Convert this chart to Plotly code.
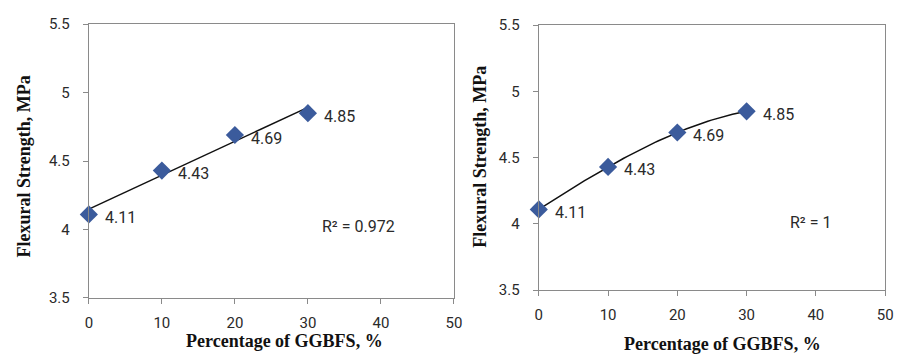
import numpy as np
import plotly.graph_objects as go

ggbfs = [0, 10, 20, 30]
strength = [4.11, 4.43, 4.69, 4.85]
labels = ["4.11", "4.43", "4.69", "4.85"]
x_ticks = [0, 10, 20, 30, 40, 50]
y_ticks = [3.5, 4, 4.5, 5, 5.5]
r2_texts = ["R² = 0.972", "R² = 1"]
x_title = "Percentage of GGBFS, %"
y_title = "Flexural Strength, MPa"

marker_color = "#3b5b9c"
tick_font = dict(family="Roboto, sans-serif", size=15, color="#2a2a2a")
label_font = dict(family="Roboto, sans-serif", size=16, color="#2a2a2a")
title_font = dict(family="Liberation Serif, serif", size=18, color="#111")

fig = go.Figure()

# Trendlines
lin = np.polyfit(ggbfs, strength, 1)
cub = np.polyfit(ggbfs, strength, 3)
xs_lin = np.array([ggbfs[0], ggbfs[-1]])
xs_cub = np.linspace(ggbfs[0], ggbfs[-1], 60)

fig.add_trace(go.Scatter(x=xs_lin, y=np.polyval(lin, xs_lin), mode="lines",
                         line=dict(color="#111", width=1.5), xaxis="x", yaxis="y",
                         showlegend=False))
fig.add_trace(go.Scatter(x=xs_cub, y=np.polyval(cub, xs_cub), mode="lines",
                         line=dict(color="#111", width=1.5), xaxis="x2", yaxis="y2",
                         showlegend=False))

for xa, ya in [("x", "y"), ("x2", "y2")]:
    fig.add_trace(go.Scatter(x=ggbfs, y=strength, mode="markers",
                             marker=dict(symbol="diamond", size=14, color=marker_color),
                             xaxis=xa, yaxis=ya, showlegend=False, cliponaxis=False))

annotations = []
for xref, yref in [("x", "y"), ("x2", "y2")]:
    for xv, yv, t in zip(ggbfs, strength, labels):
        annotations.append(dict(x=xv, y=yv, xref=xref, yref=yref, text=t,
                                showarrow=False, xanchor="left", yanchor="middle",
                                xshift=14, yshift=-3, font=label_font))

annotations.append(dict(x=36.9, y=4.02, xref="x", yref="y", text=r2_texts[0],
                        showarrow=False, xanchor="center", yanchor="middle", font=label_font))
annotations.append(dict(x=39.2, y=4.01, xref="x2", yref="y2", text=r2_texts[1],
                        showarrow=False, xanchor="center", yanchor="middle", font=label_font))

# axis titles
annotations += [
    dict(x=20 / 903, y=1 - 166 / 361, xref="paper", yref="paper", text="<b>" + y_title + "</b>",
         textangle=-90, showarrow=False, xanchor="center", yanchor="middle", font=title_font),
    dict(x=284 / 903, y=1 - 349 / 361, xref="paper", yref="paper", text="<b>" + x_title + "</b>",
         showarrow=False, xanchor="center", yanchor="middle", font=title_font),
    dict(x=483 / 903, y=1 - 156 / 361, xref="paper", yref="paper", text="<b>" + y_title + "</b>",
         textangle=-90, showarrow=False, xanchor="center", yanchor="middle", font=title_font),
    dict(x=728 / 903, y=1 - 353 / 361, xref="paper", yref="paper", text="<b>" + x_title + "</b>",
         showarrow=False, xanchor="center", yanchor="middle", font=title_font),
]

axis_common = dict(showgrid=False, zeroline=False, showline=True, linecolor="#8a8a8a",
                   linewidth=1.3, mirror=True, ticks="outside", tickcolor="#8a8a8a",
                   ticklen=5, tickfont=tick_font)

fig.update_layout(
    width=903, height=361,
    margin=dict(l=0, r=0, t=0, b=0),
    paper_bgcolor="white", plot_bgcolor="white",
    xaxis=dict(domain=[86 / 903, 456 / 903], range=[0, 50], tickvals=x_ticks,
               anchor="y", ticklabelstandoff=6, **axis_common),
    yaxis=dict(domain=[1 - 304 / 361, 1 - 16 / 361], range=[3.5, 5.5], tickvals=y_ticks,
               ticktext=[f"{v:g}" for v in y_ticks], anchor="x", ticklabelstandoff=10,
               **axis_common),
    xaxis2=dict(domain=[542 / 903, 893 / 903], range=[0, 50], tickvals=x_ticks,
                anchor="y2", ticklabelstandoff=6, **axis_common),
    yaxis2=dict(domain=[1 - 296 / 361, 1 - 17 / 361], range=[3.5, 5.5], tickvals=y_ticks,
                ticktext=[f"{v:g}" for v in y_ticks], anchor="x2", ticklabelstandoff=10,
                **axis_common),
    annotations=annotations,
)

fig.write_html("out.html")
